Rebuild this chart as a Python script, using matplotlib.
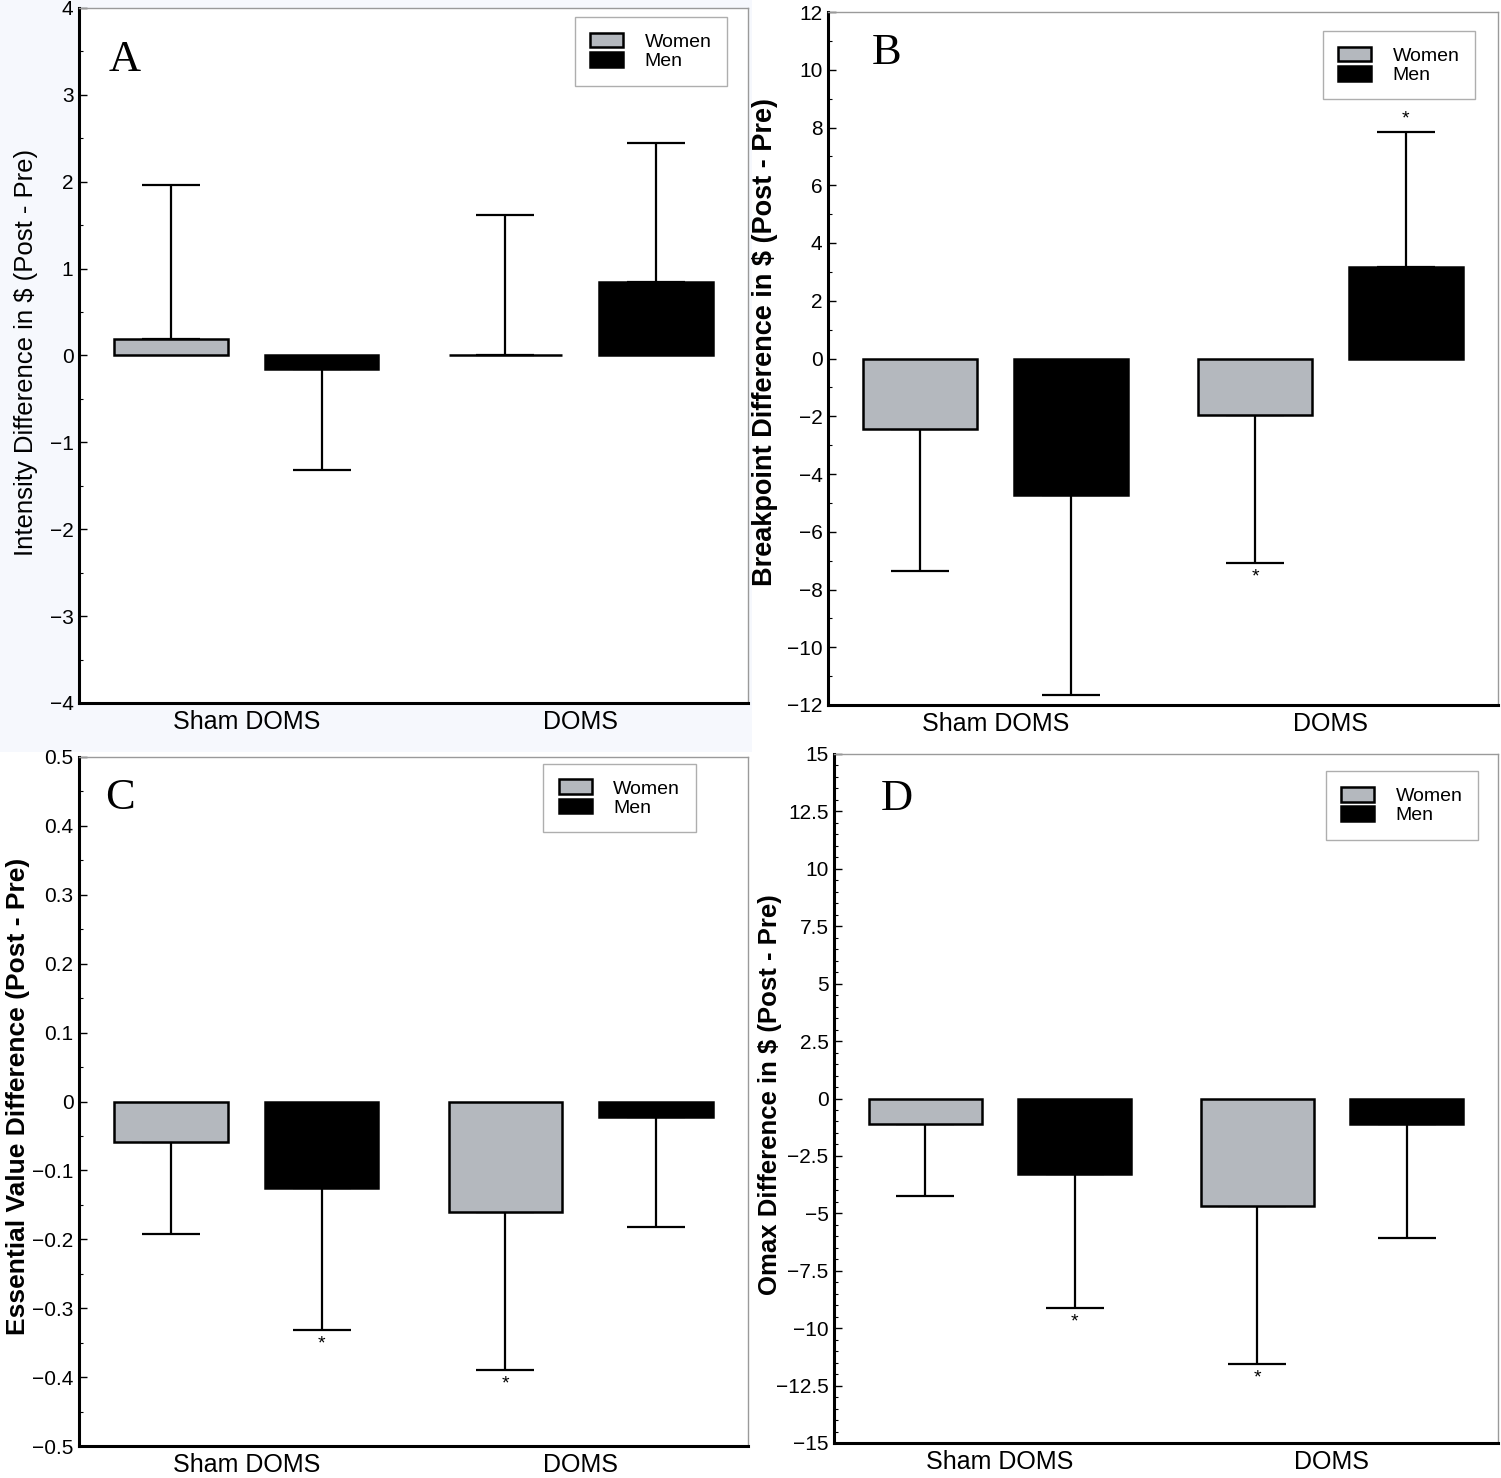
import matplotlib
matplotlib.use('Agg')
import matplotlib.pyplot as plt
from matplotlib.patches import Rectangle, Patch
from matplotlib.ticker import MultipleLocator, FuncFormatter
import numpy as np

plt.rcParams['font.family'] = ['Liberation Sans', 'DejaVu Sans']

groups = ['Sham DOMS', 'DOMS']

# means and error-bar end points
a_women = [0.19, 0.0]
a_women_end = [1.96, 1.62]
a_men = [-0.15, 0.85]
a_men_end = [-1.32, 2.45]

b_women = [-2.43, -1.94]
b_women_end = [-7.36, -7.08]
b_men = [-4.72, 3.16]
b_men_end = [-11.67, 7.85]

c_women = [-0.059, -0.161]
c_women_end = [-0.193, -0.389]
c_men = [-0.126, -0.023]
c_men_end = [-0.331, -0.182]

d_women = [-1.12, -4.67]
d_women_end = [-4.23, -11.57]
d_men = [-3.27, -1.10]
d_men_end = [-9.11, -6.06]

# significance stars: (sex, group index)
a_sig = []
b_sig = [('women', 1), ('men', 1)]
c_sig = [('men', 0), ('women', 1)]
d_sig = [('men', 0), ('women', 1)]

GRAY = '#b4b8be'
W = 1501
H = 1478

fig = plt.figure(figsize=(W / 100, H / 100), dpi=100)
fig.patch.set_facecolor('white')
# light tint behind panel A
fig.patches.append(Rectangle((0, 1 - 752 / H), 752 / W, 752 / H, transform=fig.transFigure,
                             facecolor='#f6f8fd', edgecolor='none', zorder=-5))


def fmt(v, pos):
    v = round(v, 6)
    if v == 0:
        return '0'
    return ('%g' % v).replace('-', '\u2212')


def panel(rect, letter, letter_pos, ylabel, bold, lsize, ylim, major, minor, women, women_end,
          men, men_end, sig, leg_anchor, label_coords):
    ax = fig.add_axes(rect)
    ax.set_facecolor('white')
    x = np.arange(len(groups))
    off = 0.225
    bw = 0.34
    for vals, ends, dx, col in [(women, women_end, -off, GRAY), (men, men_end, off, 'black')]:
        vals = np.array(vals)
        ends = np.array(ends)
        lo = np.where(ends < vals, vals - ends, 0)
        hi = np.where(ends > vals, ends - vals, 0)
        ax.errorbar(x + dx, vals, yerr=[lo, hi], fmt='none', ecolor='black', elinewidth=1.6,
                    capsize=21, capthick=1.6, zorder=1)
        ax.bar(x + dx, vals, width=bw, color=col, edgecolor='black', linewidth=1.8, zorder=2)
    span = ylim[1] - ylim[0]
    for sex, gi in sig:
        if sex == 'women':
            v, e, dx = women[gi], women_end[gi], -off
        else:
            v, e, dx = men[gi], men_end[gi], off
        if e > v:
            ax.text(gi + dx, e + span * 0.006, '*', ha='center', va='bottom', fontsize=14)
        else:
            ax.text(gi + dx, e - span * 0.008, '*', ha='center', va='top', fontsize=14)
    ax.set_xlim(-0.5, 1.5)
    ax.set_ylim(*ylim)
    ax.yaxis.set_major_locator(MultipleLocator(major))
    ax.yaxis.set_minor_locator(MultipleLocator(minor))
    ax.yaxis.set_major_formatter(FuncFormatter(fmt))
    ax.set_xticks(x)
    ax.set_xticklabels(groups, fontsize=18)
    ax.tick_params(axis='x', length=0, pad=5)
    ax.tick_params(axis='y', which='major', direction='in', length=6, width=1, labelsize=15, pad=4)
    ax.tick_params(axis='y', which='minor', direction='in', length=3, width=0.8)
    for s in ['left', 'bottom']:
        ax.spines[s].set_linewidth(2.2)
        ax.spines[s].set_color('black')
    for s in ['top', 'right']:
        ax.spines[s].set_linewidth(1.0)
        ax.spines[s].set_color('#9a9a9a')
    ax.set_ylabel(ylabel, fontsize=lsize, fontweight='bold' if bold else 'normal')
    ax.yaxis.set_label_coords(*label_coords)
    ax.text(letter_pos[0], letter_pos[1], letter, transform=ax.transAxes, fontsize=32,
            family='Liberation Serif', ha='center', va='center')
    handles = [Patch(facecolor=GRAY, edgecolor='black', linewidth=1.8, label='Women'),
               Patch(facecolor='black', edgecolor='black', linewidth=1.8, label='Men')]
    leg = ax.legend(handles=handles, loc='upper right', bbox_to_anchor=leg_anchor, borderaxespad=0,
                    fontsize=14, frameon=True, fancybox=False, edgecolor='#9a9a9a',
                    handlelength=1.7, handleheight=0.8, handletextpad=1.1, labelspacing=0.05,
                    borderpad=0.8)
    leg.get_frame().set_linewidth(1.0)
    return ax


panel([79 / W, 1 - 703 / H, 669 / W, 695 / H], 'A', (0.069, 0.925),
      'Intensity Difference in $ (Post - Pre)', False, 18.5, (-4, 4), 1, 0.5,
      a_women, a_women_end, a_men, a_men_end, a_sig, (0.9686, 0.987), (-0.061, 0.505))

panel([828 / W, 1 - 705 / H, 670 / W, 693 / H], 'B', (0.087, 0.941),
      'Breakpoint Difference in $ (Post - Pre)', True, 19.5, (-12, 12), 2, 1,
      b_women, b_women_end, b_men, b_men_end, b_sig, (0.9657, 0.9726), (-0.075, 0.524))

panel([79 / W, 1 - 1446 / H, 669 / W, 689 / H], 'C', (0.061, 0.94),
      'Essential Value Difference (Post - Pre)', True, 19, (-0.5, 0.5), 0.1, 0.05,
      c_women, c_women_end, c_men, c_men_end, c_sig, (0.922, 0.990), (-0.073, 0.507))

panel([834 / W, 1 - 1443 / H, 664 / W, 689 / H], 'D', (0.095, 0.935),
      'Omax Difference in $ (Post - Pre)', True, 18.5, (-15, 15), 2.5, 0.5,
      d_women, d_women_end, d_men, d_men_end, d_sig, (0.970, 0.975), (-0.078, 0.505))

plt.savefig('out.png', dpi=100, facecolor='white')
plt.close()
